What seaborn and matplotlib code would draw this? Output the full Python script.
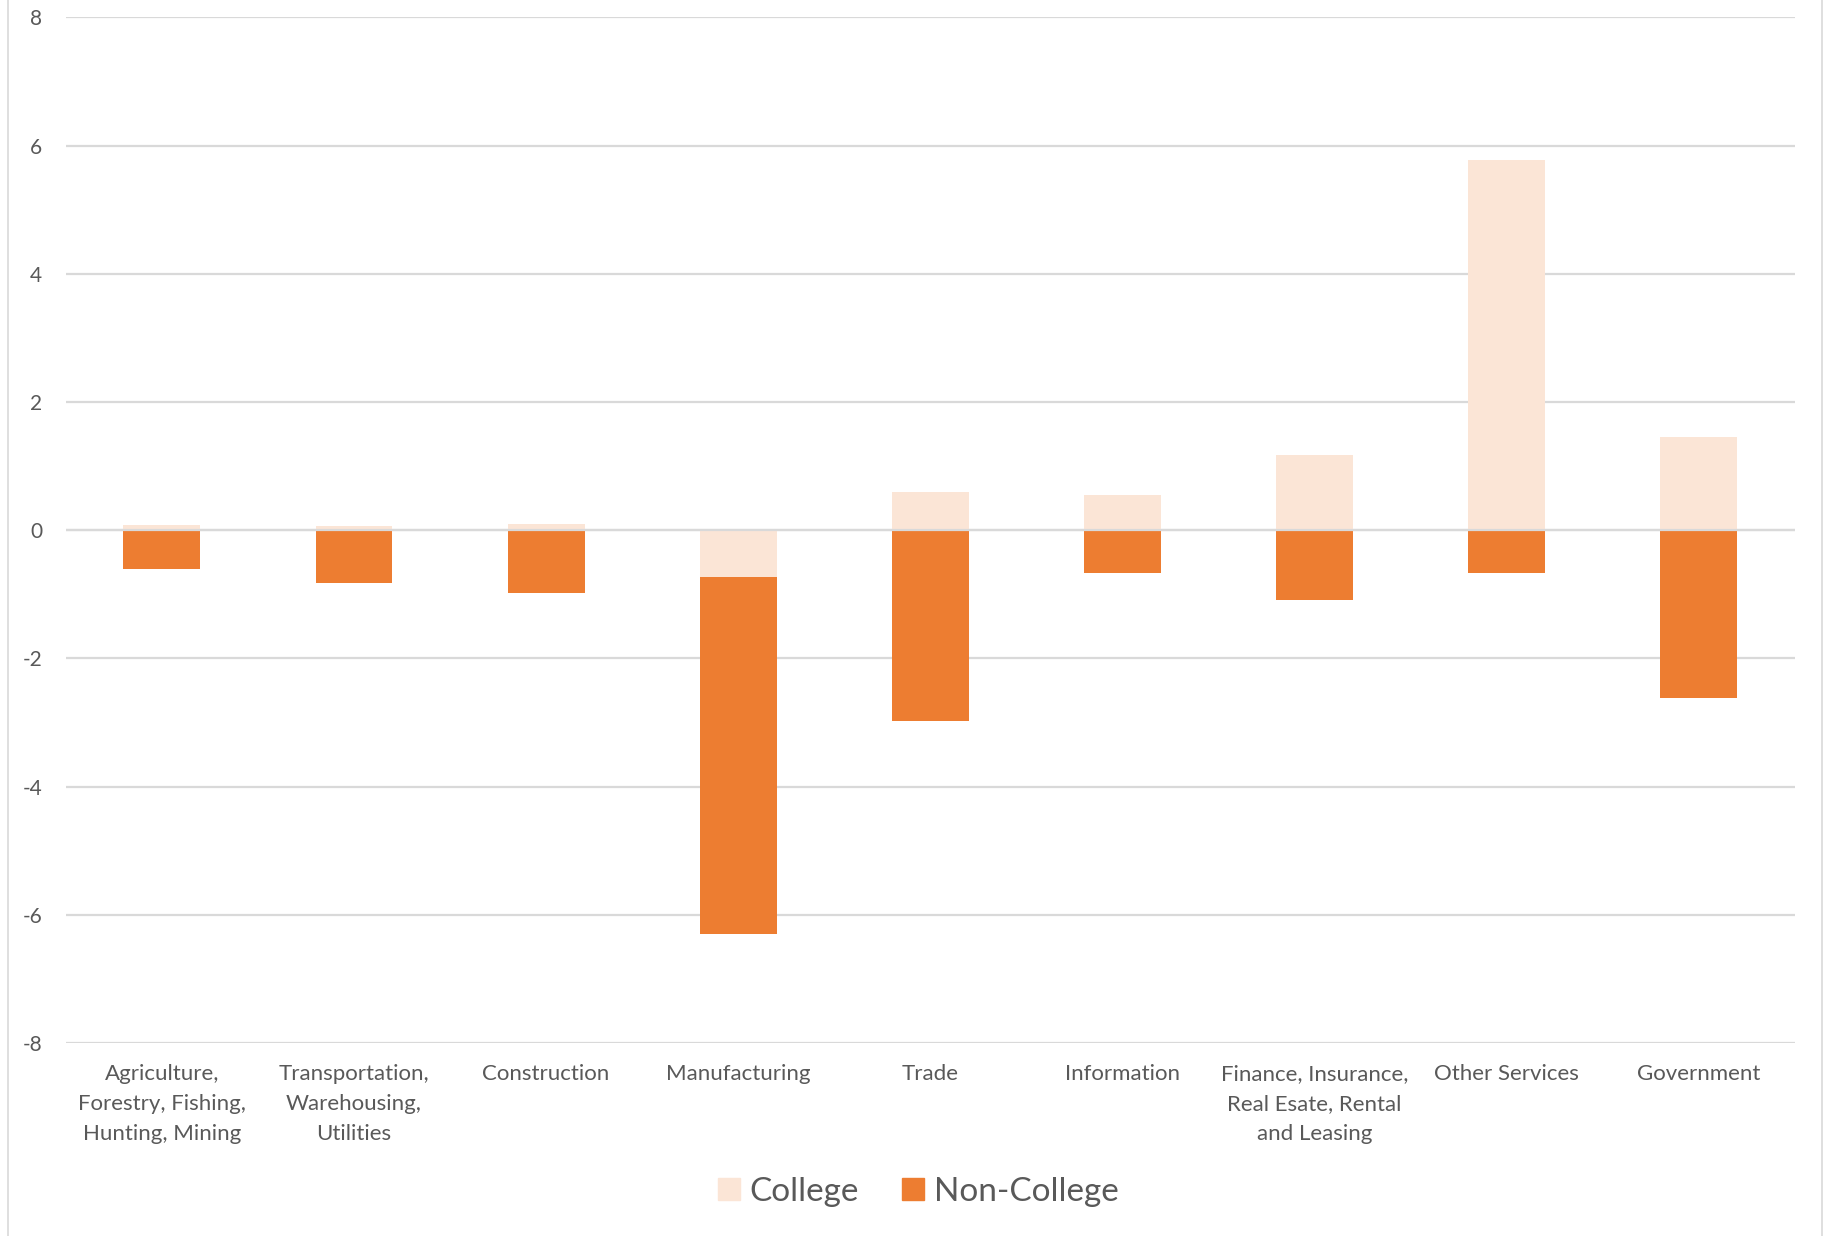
import numpy as np
import pandas as pd
import seaborn as sns
import matplotlib.pyplot as plt
from matplotlib.patches import Patch, Rectangle

# values
industries = ['Agriculture,\nForestry, Fishing,\nHunting, Mining',
              'Transportation,\nWarehousing,\nUtilities',
              'Construction', 'Manufacturing', 'Trade', 'Information',
              'Finance, Insurance,\nReal Esate, Rental\nand Leasing',
              'Other Services', 'Government']
college = [0.08, 0.07, 0.10, -0.73, 0.60, 0.55, 1.18, 5.78, 1.45]
non_college = [-0.60, -0.82, -0.98, -5.57, -2.97, -0.67, -1.09, -0.67, -2.62]

college_color = '#FBE5D6'
noncollege_color = '#ED7D31'
text_color = '#595959'
grid_color = '#D9D9D9'

sns.set_style('white')
plt.rcParams['font.family'] = ['Lato', 'DejaVu Sans']
plt.rcParams['axes.unicode_minus'] = False

df = pd.DataFrame({'Industry': industries, 'College': college, 'Non-College': non_college})
# negative stack: non-college sits below any negative college part
df['NegStack'] = df['Non-College'] + df['College'].clip(upper=0)

fig = plt.figure(figsize=(18.26, 12.36), dpi=100)
ax = fig.add_axes([0.036, 0.156, 0.947, 0.83])

sns.barplot(data=df, x='Industry', y='NegStack', color=noncollege_color,
            width=0.4, saturation=1, linewidth=0, ax=ax, zorder=2)
sns.barplot(data=df, x='Industry', y='College', color=college_color,
            width=0.4, saturation=1, linewidth=0, ax=ax, zorder=3)

ax.set_ylim(-8, 8)
ax.set_yticks(np.arange(-8, 9, 2))
ax.set_xlim(-0.5, len(industries) - 0.5)
ax.yaxis.grid(True, color=grid_color, linewidth=1.6, zorder=0)
ax.set_axisbelow(True)
ax.axhline(0, color=grid_color, linewidth=1.6, zorder=4)
for s in ax.spines.values():
    s.set_visible(False)
ax.set_xlabel('')
ax.set_ylabel('')
ax.tick_params(axis='y', length=0, labelsize=15, colors=text_color, pad=17)
ax.tick_params(axis='x', length=0, labelsize=16, colors=text_color, pad=15)
for lbl in ax.get_xticklabels():
    lbl.set_linespacing(1.62)
    lbl.set_verticalalignment('top')

handles = [Patch(color=college_color, label='College'),
           Patch(color=noncollege_color, label='Non-College')]
leg = fig.legend(handles=handles, loc='center', bbox_to_anchor=(0.503, 0.036),
                 ncol=2, frameon=False, fontsize=24, handlelength=0.65,
                 handleheight=0.65, handletextpad=0.3, columnspacing=1.3)
for t in leg.get_texts():
    t.set_color(text_color)

# chart border
fig.patches.append(Rectangle((0.0045, -0.01), 0.9935, 1.02, transform=fig.transFigure,
                             fill=False, edgecolor=grid_color, linewidth=1.2))

fig.savefig('out.png', dpi=100, facecolor='white')
